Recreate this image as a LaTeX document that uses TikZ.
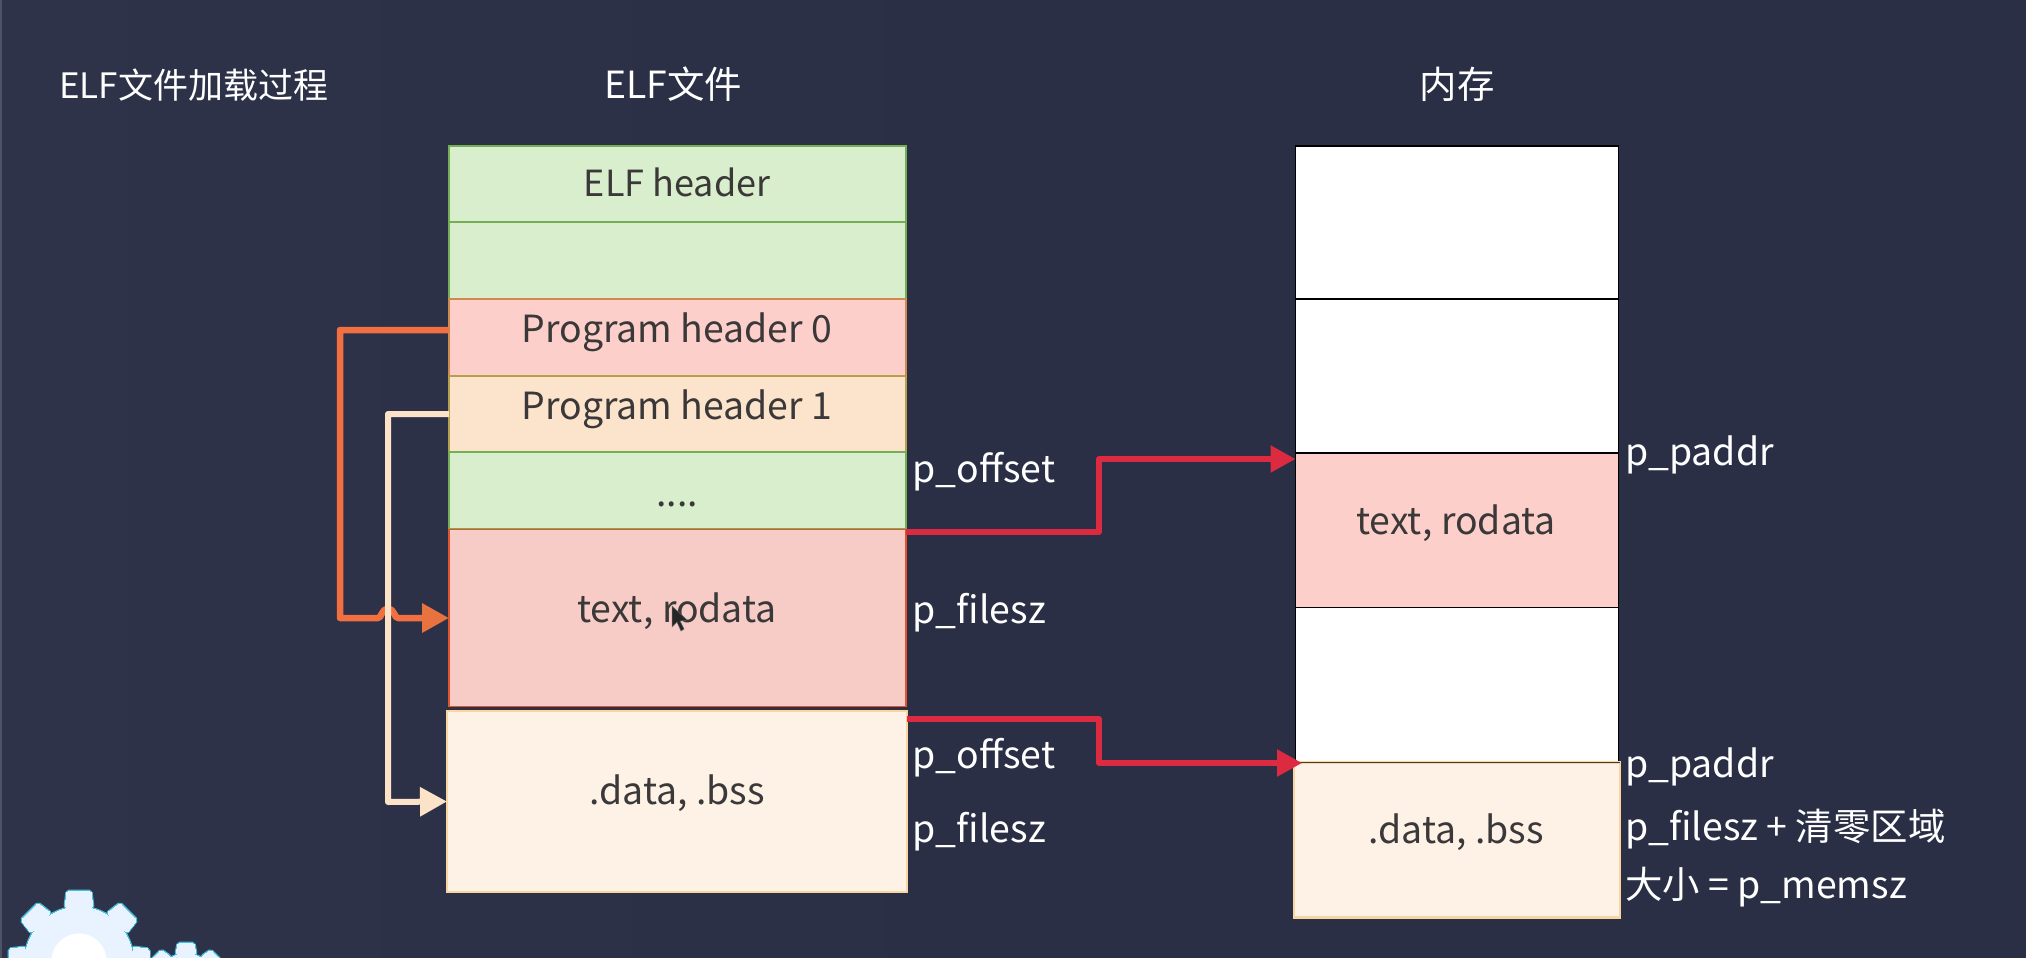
\documentclass[tikz,border=0pt]{standalone}
\usepackage{fontspec}
\setmainfont{Noto Sans CJK SC}
\usetikzlibrary{arrows.meta,calc}
\definecolor{bgmain}{HTML}{2A2F46}
\definecolor{bgleft}{HTML}{2F3349}
\definecolor{grfill}{HTML}{D8EECC}
\definecolor{grline}{HTML}{74AE55}
\definecolor{rdfill}{HTML}{FDCFCA}
\definecolor{rdfillb}{HTML}{F7CCC7}
\definecolor{rdline}{HTML}{D08A50}
\definecolor{pcfill}{HTML}{FCE4CC}
\definecolor{pcline}{HTML}{B5A050}
\definecolor{crfill}{HTML}{FEF2E7}
\definecolor{crline}{HTML}{F9D5A0}
\definecolor{ink}{HTML}{3A3838}
\definecolor{orangeln}{HTML}{F2703F}
\definecolor{orangehd}{HTML}{E8733F}
\definecolor{creamln}{HTML}{FCE2C6}
\definecolor{redln}{HTML}{DC2A40}
\definecolor{gearfill}{HTML}{E8F3FF}
\definecolor{gearline}{HTML}{45BEDD}
\tikzset{
  cell/.style={draw,line width=1.4pt,rectangle,inner sep=0pt,outer sep=0pt,minimum width=457pt},
  memcell/.style={draw=black,fill=white,line width=1.2pt,rectangle,inner sep=0pt,outer sep=0pt,minimum width=323pt},
  boxtxt/.style={inner sep=0pt,anchor=base,text=ink,font=\fontsize{37.4}{42}\selectfont},
  sidetxt/.style={inner sep=0pt,anchor=base west,text=white,font=\fontsize{37.4}{42}\selectfont},
  conn/.style={line width=5.5pt,line join=round,-{Triangle[length=25pt,width=26pt]}},
  connwide/.style={line width=6.5pt,line join=round,-{Triangle[length=27pt,width=28pt]}},
}
\begin{document}
\begin{tikzpicture}[x=1pt,y=-1pt]
\useasboundingbox (0,0) rectangle (2026,958);
\shade[left color=bgleft,right color=bgmain,middle color=bgmain] (0,0) rectangle (2026,958);
\fill[bgleft!85!white] (0,0) rectangle (1.5,958);

% gears
\begin{scope}
\clip (0,0) rectangle (2026,958);
\foreach \cx/\cy/\rb/\rt/\tw/\rh in {79/961/54/70/24/27.6,186/986/32/43/16/0}{
  \begin{scope}[shift={(\cx,\cy)}]
    \foreach \stage/\col/\lw in {1/gearline/3pt,2/gearfill/0pt}{
      \foreach \a in {0,45,...,315}{
        \filldraw[rotate=\a,fill=\col,draw=\col,line width=\lw,rounded corners=2pt] (-\tw/2-2,-\rb) -- (-\tw/2,-\rt) -- (\tw/2,-\rt) -- (\tw/2+2,-\rb) -- cycle;
      }
      \filldraw[fill=\col,draw=\col,line width=\lw] (0,0) circle (\rb);
    }
    \ifdim\rh pt>0pt \fill[white] (0,0) circle (\rh); \fi
  \end{scope}
}
\end{scope}

% titles
\node[sidetxt,font=\fontsize{35}{40}\selectfont] (title) at (59,98) {ELF文件加载过程};
\node[sidetxt,anchor=base] (elftitle) at (673,98) {ELF文件};
\node[sidetxt,anchor=base] (memtitle) at (1457,98) {内存};

% ELF file boxes
\node[cell,fill=grfill,draw=grline,minimum height=76pt] (eh) at (677.5,184) {};
\node[cell,fill=grfill,draw=grline,minimum height=77pt] (blank) at (677.5,260.5) {};
\node[cell,fill=rdfill,draw=rdline,minimum height=77pt] (ph0) at (677.5,337.5) {};
\node[cell,fill=pcfill,draw=pcline,minimum height=76pt] (ph1) at (677.5,414) {};
\node[cell,fill=grfill,draw=grline,minimum height=77pt] (dots) at (677.5,490.5) {};
\node[cell,fill=rdfillb,draw=rdline!60!red,minimum height=177.5pt] (text) at (677.5,618) {};
\node[cell,fill=crfill,draw=crline,line width=2.2pt,minimum width=460pt,minimum height=181pt] (data) at (677,801.5) {};

\node[boxtxt,font=\fontsize{36}{42}\selectfont] (ehT) at (677,196) {ELF header};
\node[boxtxt] (ph0T) at (677,342) {Program header 0};
\node[boxtxt] (ph1T) at (677,419) {Program header 1};
\node[boxtxt] (dotsT) at (677,506) {....};
\node[boxtxt] (textT) at (677,622) {text, rodata};
\node[boxtxt] (dataT) at (677,804) {.data, .bss};

% memory boxes
\node[memcell,minimum height=153pt] (m1) at (1457,222.5) {};
\node[memcell,minimum height=154pt] (m2) at (1457,376) {};
\node[memcell,fill=rdfill,minimum height=154pt] (m3) at (1457,530.5) {};
\node[memcell,minimum height=155pt] (m4) at (1457,685) {};
\node[memcell,fill=crfill,draw=crline,line width=2.2pt,minimum width=326pt,minimum height=155pt] (m5) at (1457,840) {};
\draw[line width=1.6pt,draw=black!75] (m5.north west) -- (m5.north east);

\node[boxtxt] (m3T) at (1456,534) {text, rodata};
\node[boxtxt] (m5T) at (1456,843) {.data, .bss};

% cursor
\filldraw[fill=black!85,draw=white!40!black,line width=.5pt] (672,606) -- (672,627) -- (677,622) -- (681,631) -- (684,629) -- (680,621) -- (687,620) -- cycle;

% side labels
\node[sidetxt] (l1) at (912.5,482) {p\_offset};
\node[sidetxt] (l2) at (912.5,623) {p\_filesz};
\node[sidetxt] (l3) at (912.5,768) {p\_offset};
\node[sidetxt] (l4) at (912.5,842) {p\_filesz};
\node[sidetxt] (r1) at (1625,465) {p\_paddr};
\node[sidetxt] (r2) at (1625,777) {p\_paddr};
\node[sidetxt] (r3) at (1625,840) {p\_filesz + 清零区域};
\node[sidetxt] (r4) at (1625,898) {大小 = p\_memsz};

% connector coordinates
\coordinate (ph0out) at (ph0.west |- 0,330);
\coordinate (ph1out) at (ph1.west);
\coordinate (textOut) at (text.east |- 0,532);
\coordinate (dataOut) at (data.east |- 0,719);
\coordinate (m3in) at (m3.west |- 0,459);
\coordinate (m5in) at (1302,763);

% connectors
\draw[connwide,draw=orangeln,-] (ph0out) -- (340,330) -- (340,618) -- (378,618) .. controls (382,618) and (381,609) .. (388,609) .. controls (395,609) and (394,618) .. (398,618) -- (424,618);
\draw[connwide,draw=orangehd,fill=orangehd] (420,618) -- (text.west);
\draw[connwide,line width=6pt,draw=creamln] (ph1out) -- (388,414) -- (388,802) -- (data.west);
\draw[conn,draw=redln] (textOut) -- (1099,532) -- (1099,459) -- (m3in);
\draw[conn,draw=redln] (dataOut) -- (1099,719) -- (1099,763) -- (m5in);
\end{tikzpicture}
\end{document}
